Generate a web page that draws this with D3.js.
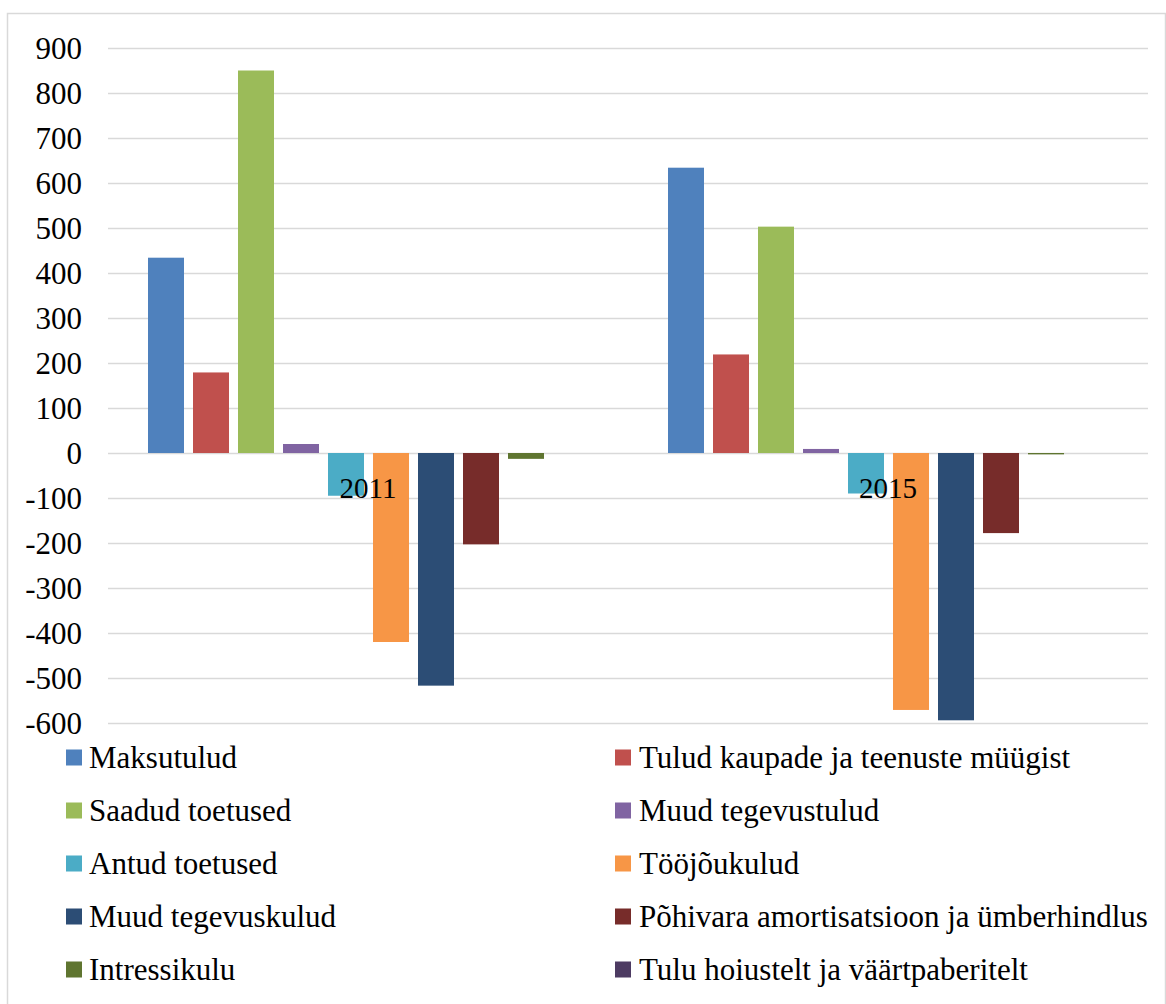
<!DOCTYPE html>
<html>
<head>
<meta charset="utf-8">
<script src="https://cdn.jsdelivr.net/npm/d3@7"></script>
<style>
  body { margin: 0; background: #fff; }
</style>
</head>
<body>
<svg id="canvas"></svg>
<script>
const years = ['2011', '2015'];
const seriesNames = [
    'Maksutulud', 'Tulud kaupade ja teenuste müügist',
    'Saadud toetused', 'Muud tegevustulud',
    'Antud toetused', 'Tööjõukulud',
    'Muud tegevuskulud', 'Põhivara amortisatsioon ja ümberhindlus',
    'Intressikulu', 'Tulu hoiustelt ja väärtpaberitelt'
];
const values2011 = [434, 179, 850, 20, -95, -420, -517, -203, -13, 0];
const values2015 = [634, 219, 503, 9, -90, -571, -594, -178, -3, 0];
const yTicks = [900, 800, 700, 600, 500, 400, 300, 200, 100, 0, -100, -200, -300, -400, -500, -600];
const colors = ['#4F81BD', '#C0504D', '#9BBB59', '#8064A2', '#4BACC6', '#F79646', '#2C4D75', '#772C2A', '#5F7530', '#4D3B62'];

const width = 1166;
const height = 1004;
const plotLeft = 108, plotRight = 1148, plotTop = 48, plotBottom = 723;
const serif = "'Liberation Serif', 'Times New Roman', serif";

const svg = d3.select('#canvas').attr('width', width).attr('height', height);

// outer frame
svg.append('rect')
    .attr('x', 7.5).attr('y', 13.5)
    .attr('width', width - 8).attr('height', height - 8)
    .attr('fill', 'none').attr('stroke', '#d9d9d9').attr('stroke-width', 1.5);

const yScale = d3.scaleLinear().domain([-600, 900]).range([plotBottom, plotTop]);
const xScale = d3.scaleBand().domain(years).range([plotLeft, plotRight]).paddingInner(0).paddingOuter(0);
const inner = d3.scaleBand().domain(d3.range(seriesNames.length))
    .range([40, 520 - 39]).paddingInner(0.2).paddingOuter(0);

// gridlines
svg.append('g')
    .selectAll('line')
    .data(yTicks)
    .enter()
    .append('line')
    .attr('x1', plotLeft).attr('x2', plotRight)
    .attr('y1', d => Math.round(yScale(d)) + 0.5)
    .attr('y2', d => Math.round(yScale(d)) + 0.5)
    .attr('stroke', '#d9d9d9').attr('stroke-width', 1.5);

// y axis labels (plain hyphen for negatives)
const yAxis = d3.axisLeft(yScale).tickValues(yTicks).tickSize(0).tickPadding(0)
    .tickFormat(d => String(d));
const yg = svg.append('g')
    .attr('transform', 'translate(82, 0)')
    .call(yAxis);
yg.select('.domain').remove();
yg.attr('font-family', null).attr('font-size', null);
yg.selectAll('text')
    .style('font-family', serif)
    .style('font-size', '31px')
    .attr('fill', '#000')
    .attr('dy', '0.33em');

// bars
const rows = [];
years.forEach((yr, i) => {
    const vals = i === 0 ? values2011 : values2015;
    vals.forEach((v, j) => rows.push({ year: yr, idx: j, value: v }));
});

svg.append('g')
    .selectAll('rect')
    .data(rows)
    .enter()
    .append('rect')
    .attr('x', d => xScale(d.year) + inner(d.idx))
    .attr('width', inner.bandwidth())
    .attr('y', d => yScale(Math.max(0, d.value)))
    .attr('height', d => Math.abs(yScale(d.value) - yScale(0)))
    .attr('fill', d => colors[d.idx]);

// category labels next to the axis
svg.append('g')
    .selectAll('text')
    .data(years)
    .enter()
    .append('text')
    .attr('x', d => xScale(d) + xScale.bandwidth() / 2)
    .attr('y', yScale(0) + 45)
    .attr('text-anchor', 'middle')
    .style('font-family', serif)
    .style('font-size', '29px')
    .text(d => d);

// legend
const legend = svg.append('g');
const item = legend.selectAll('g')
    .data(seriesNames)
    .enter()
    .append('g')
    .attr('transform', (d, i) => 'translate(' + (i % 2 === 0 ? 66 : 615) + ',' + (757.5 + Math.floor(i / 2) * 53) + ')');
item.append('rect')
    .attr('x', 0).attr('y', -8)
    .attr('width', 16).attr('height', 16)
    .attr('fill', (d, i) => colors[i]);
item.append('text')
    .attr('x', (d, i) => i % 2 === 0 ? 23 : 24)
    .attr('y', 0)
    .attr('dy', '0.35em')
    .style('font-family', serif)
    .style('font-size', '31px')
    .text(d => d);
</script>
</body>
</html>
